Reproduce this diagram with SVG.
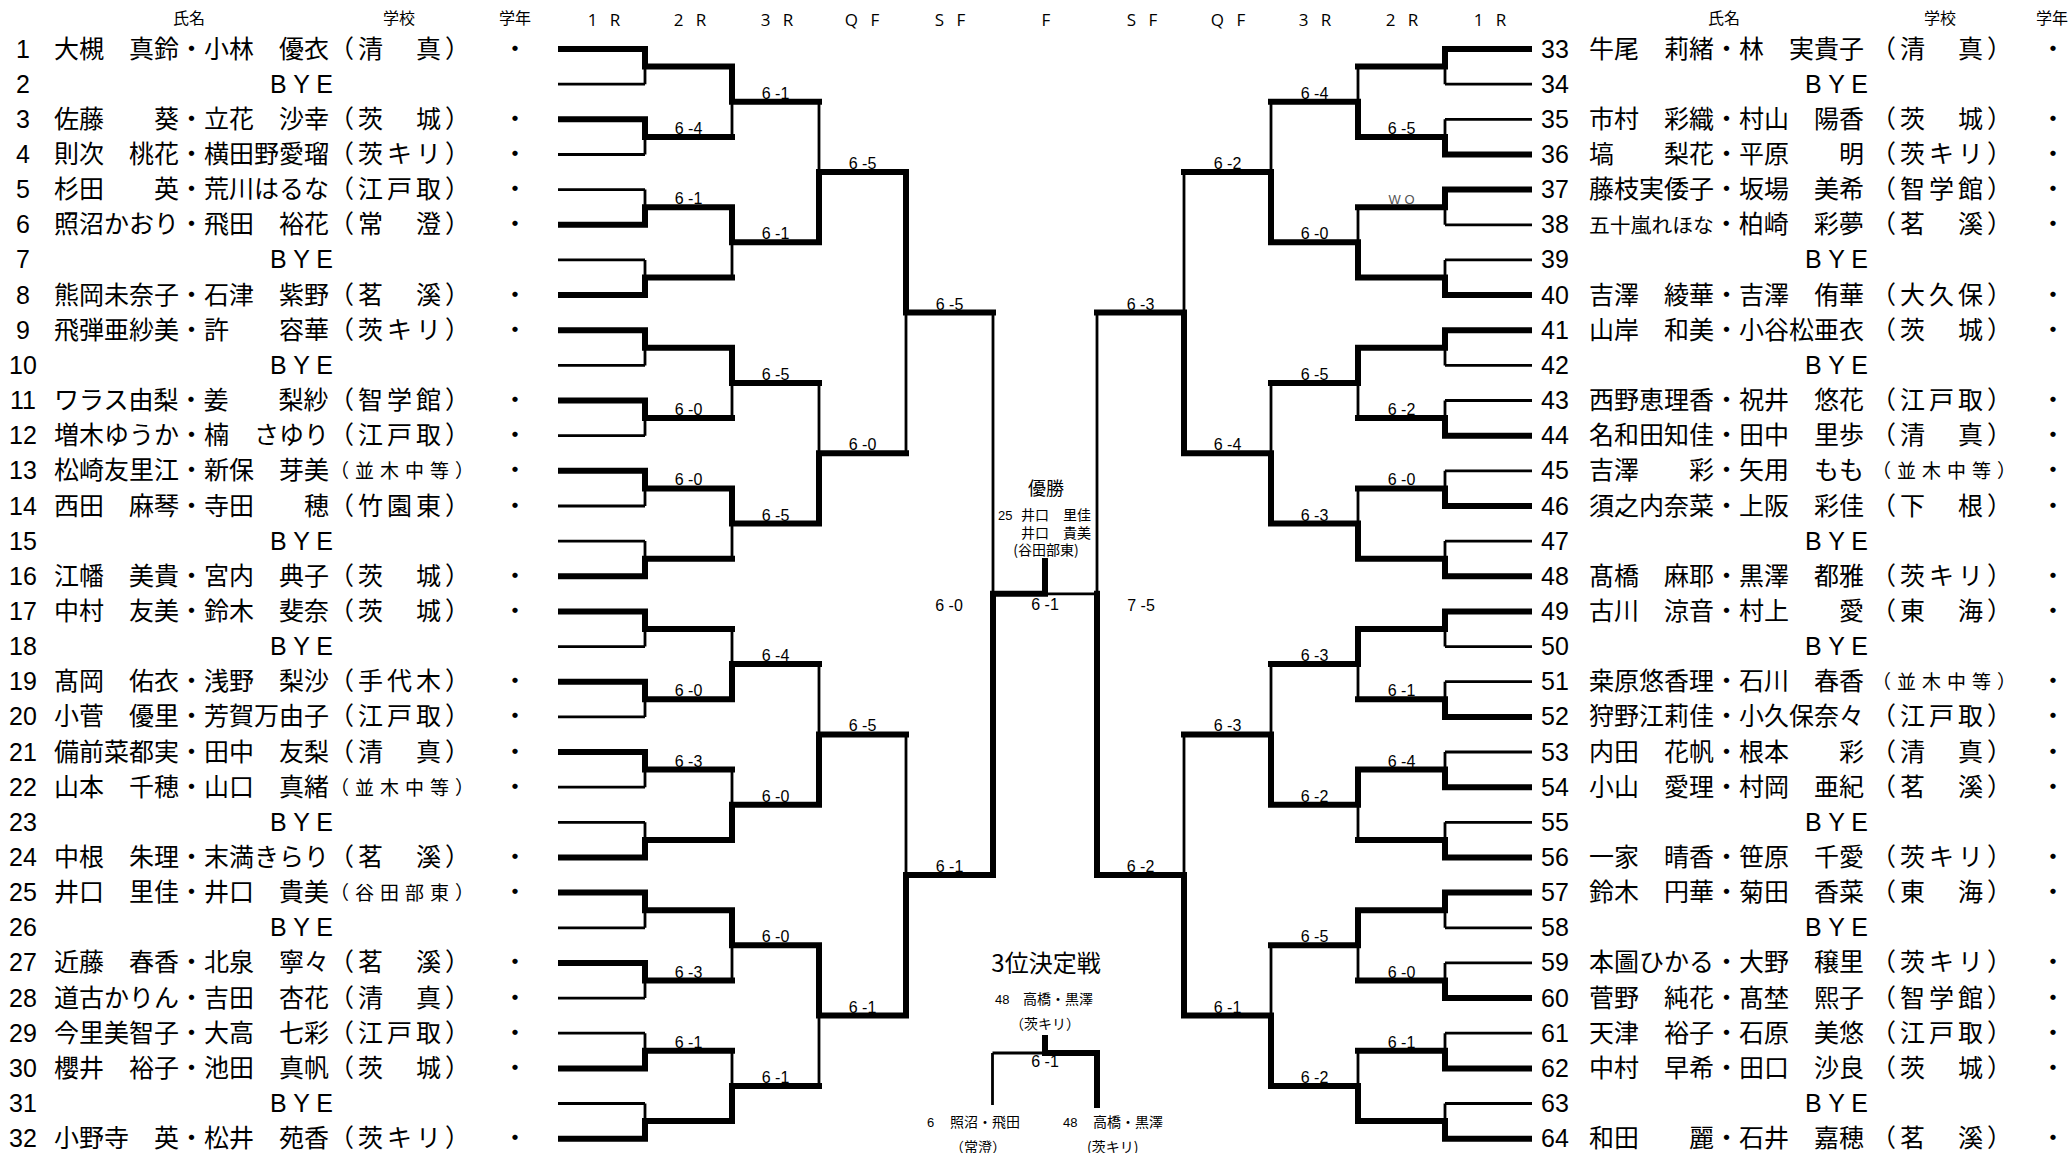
<svg xmlns="http://www.w3.org/2000/svg" width="2071" height="1153" viewBox="0 0 2071 1153">
<style>
.n{font-family:"Liberation Sans",Arial,sans-serif;font-size:25px;text-anchor:middle}
.j{font-family:"Noto Sans CJK JP",sans-serif;font-size:25px}
.k{font-family:"Noto Sans CJK JP",sans-serif;font-size:25px;letter-spacing:4px}
.s{font-family:"Noto Sans CJK JP",sans-serif;font-size:19px}
.g{font-family:"Noto Sans CJK JP",sans-serif;font-size:25px;text-anchor:middle}
.b{font-family:"Liberation Sans",Arial,sans-serif;font-size:25px}
.sc{font-family:"Liberation Sans",Arial,sans-serif;font-size:16px;text-anchor:middle}
.wo{font-family:"Liberation Sans",Arial,sans-serif;font-size:13px;text-anchor:middle;fill:#555}
.h{font-family:"Noto Sans CJK JP",sans-serif;font-size:16px;text-anchor:middle}
.r{font-family:"Open Sans",sans-serif;font-size:17px;text-anchor:middle;letter-spacing:4px}
.c{font-family:"Noto Sans CJK JP",sans-serif;font-size:14px}
.cn{font-family:"Liberation Sans",Arial,sans-serif;font-size:13px}
.thk{fill:none;stroke:#000;stroke-width:6;stroke-linecap:square}
.thn{fill:none;stroke:#000;stroke-width:2.8}
</style>
<rect width="2071" height="1153" fill="#fff"/>
<g id="headers">
<text class="h" x="189" y="23.5">氏名</text><text class="h" x="399" y="23.5">学校</text><text class="h" x="515" y="23.5">学年</text>
<text class="h" x="1724" y="23.5">氏名</text><text class="h" x="1940" y="23.5">学校</text><text class="h" x="2052" y="23.5">学年</text>
<text class="r" x="606" y="26">1 R</text><text class="r" x="692" y="26">2 R</text><text class="r" x="779" y="26">3 R</text><text class="r" x="864" y="26">Q F</text><text class="r" x="952" y="26">S F</text><text class="r" x="1048" y="26">F</text><text class="r" x="1144" y="26">S F</text><text class="r" x="1230" y="26">Q F</text><text class="r" x="1317" y="26">3 R</text><text class="r" x="1404" y="26">2 R</text><text class="r" x="1492" y="26">1 R</text>
</g>
<g id="connectors">
<path class="thn" d="M558 84.2H645M558 154.5H645M558 189.6H645M558 259.9H645M558 365.4H645M558 435.7H645M558 506H645M558 541.1H645M558 646.6H645M558 716.9H645M558 787.2H645M558 822.3H645M558 927.8H645M558 998.1H645M558 1033.2H645M558 1103.5H645
M645 49V84.2M645 119.3V154.5M645 189.6V224.8M645 259.9V295.1M645 330.2V365.4M645 400.5V435.7M645 470.8V506M645 541.1V576.3M645 611.4V646.6M645 681.7V716.9M645 752V787.2M645 822.3V857.5M645 892.6V927.8M645 962.9V998.1M645 1033.2V1068.4M645 1103.5V1138.7
M732 66.6V136.9M732 207.2V277.5M732 347.8V418.1M732 488.4V558.7M732 629V699.3M732 769.6V839.9M732 910.2V980.5M732 1050.8V1121.1
M819 101.7V242.3M819 382.9V523.5M819 664.1V804.7M819 945.3V1085.9
M906 172V453.2M906 734.4V1015.6M993 312.6V875M1045 593.8H1097"/>
<path class="thk" d="M561 49H645M561 119.3H645M561 224.8H645M561 295.1H645M561 330.2H645M561 400.5H645M561 470.8H645M561 576.3H645M561 611.4H645M561 681.7H645M561 752H645M561 857.5H645M561 892.6H645M561 962.9H645M561 1068.4H645M561 1138.7H645
M645 49V66.6M645 119.3V136.9M645 207.2V224.8M645 277.5V295.1M645 330.2V347.8M645 400.5V418.1M645 470.8V488.4M645 558.7V576.3M645 611.4V629M645 681.7V699.3M645 752V769.6M645 839.9V857.5M645 892.6V910.2M645 962.9V980.5M645 1050.8V1068.4M645 1121.1V1138.7
M645 66.6H732M645 136.9H732M645 207.2H732M645 277.5H732M645 347.8H732M645 418.1H732M645 488.4H732M645 558.7H732M645 629H732M645 699.3H732M645 769.6H732M645 839.9H732M645 910.2H732M645 980.5H732M645 1050.8H732M645 1121.1H732
M732 66.6V101.7M732 207.2V242.3M732 347.8V382.9M732 488.4V523.5M732 664.1V699.3M732 804.7V839.9M732 910.2V945.3M732 1085.9V1121.1
M732 101.7H819M732 242.3H819M732 382.9H819M732 523.5H819M732 664.1H819M732 804.7H819M732 945.3H819M732 1085.9H819
M819 172V242.3M819 453.2V523.5M819 734.4V804.7M819 945.3V1015.6
M819 172H906M819 453.2H906M819 734.4H906M819 1015.6H906
M906 172V312.6M906 875V1015.6M906 312.6H993M906 875H993
M993 593.8V875M993 593.8H1045M1045 561V593.8"/>
<path class="thn" d="M1532 84.2H1445M1532 119.3H1445M1532 224.8H1445M1532 259.9H1445M1532 365.4H1445M1532 400.5H1445M1532 470.8H1445M1532 541.1H1445M1532 646.6H1445M1532 681.7H1445M1532 752H1445M1532 822.3H1445M1532 927.8H1445M1532 962.9H1445M1532 1033.2H1445M1532 1103.5H1445
M1445 49V84.2M1445 119.3V154.5M1445 189.6V224.8M1445 259.9V295.1M1445 330.2V365.4M1445 400.5V435.7M1445 470.8V506M1445 541.1V576.3M1445 611.4V646.6M1445 681.7V716.9M1445 752V787.2M1445 822.3V857.5M1445 892.6V927.8M1445 962.9V998.1M1445 1033.2V1068.4M1445 1103.5V1138.7
M1358 66.6V136.9M1358 207.2V277.5M1358 347.8V418.1M1358 488.4V558.7M1358 629V699.3M1358 769.6V839.9M1358 910.2V980.5M1358 1050.8V1121.1
M1271 101.7V242.3M1271 382.9V523.5M1271 664.1V804.7M1271 945.3V1085.9
M1184 172V453.2M1184 734.4V1015.6M1097 312.6V875"/>
<path class="thk" d="M1529 49H1445M1529 154.5H1445M1529 189.6H1445M1529 295.1H1445M1529 330.2H1445M1529 435.7H1445M1529 506H1445M1529 576.3H1445M1529 611.4H1445M1529 716.9H1445M1529 787.2H1445M1529 857.5H1445M1529 892.6H1445M1529 998.1H1445M1529 1068.4H1445M1529 1138.7H1445
M1445 49V66.6M1445 136.9V154.5M1445 189.6V207.2M1445 277.5V295.1M1445 330.2V347.8M1445 418.1V435.7M1445 488.4V506M1445 558.7V576.3M1445 611.4V629M1445 699.3V716.9M1445 769.6V787.2M1445 839.9V857.5M1445 892.6V910.2M1445 980.5V998.1M1445 1050.8V1068.4M1445 1121.1V1138.7
M1445 66.6H1358M1445 136.9H1358M1445 207.2H1358M1445 277.5H1358M1445 347.8H1358M1445 418.1H1358M1445 488.4H1358M1445 558.7H1358M1445 629H1358M1445 699.3H1358M1445 769.6H1358M1445 839.9H1358M1445 910.2H1358M1445 980.5H1358M1445 1050.8H1358M1445 1121.1H1358
M1358 101.7V136.9M1358 242.3V277.5M1358 347.8V382.9M1358 523.5V558.7M1358 629V664.1M1358 769.6V804.7M1358 910.2V945.3M1358 1085.9V1121.1
M1358 101.7H1271M1358 242.3H1271M1358 382.9H1271M1358 523.5H1271M1358 664.1H1271M1358 804.7H1271M1358 945.3H1271M1358 1085.9H1271
M1271 172V242.3M1271 453.2V523.5M1271 734.4V804.7M1271 1015.6V1085.9
M1271 172H1184M1271 453.2H1184M1271 734.4H1184M1271 1015.6H1184
M1184 312.6V453.2M1184 875V1015.6M1184 312.6H1097M1184 875H1097
M1097 593.8V875"/>
<path class="thn" d="M992.5 1053V1105M992.5 1053H1045"/>
<path class="thk" d="M1045 1053H1097M1045 1038V1053M1097 1053V1105"/>
</g>
<g id="scores">
<text class="sc" x="688.5" y="133.9">6 -4</text><text class="sc" x="688.5" y="204.2">6 -1</text><text class="sc" x="688.5" y="415.1">6 -0</text><text class="sc" x="688.5" y="485.4">6 -0</text><text class="sc" x="688.5" y="696.3">6 -0</text><text class="sc" x="688.5" y="766.6">6 -3</text><text class="sc" x="688.5" y="977.5">6 -3</text><text class="sc" x="688.5" y="1047.8">6 -1</text>
<text class="sc" x="775.5" y="98.7">6 -1</text><text class="sc" x="775.5" y="239.3">6 -1</text><text class="sc" x="775.5" y="379.9">6 -5</text><text class="sc" x="775.5" y="520.5">6 -5</text><text class="sc" x="775.5" y="661.1">6 -4</text><text class="sc" x="775.5" y="801.7">6 -0</text><text class="sc" x="775.5" y="942.3">6 -0</text><text class="sc" x="775.5" y="1082.9">6 -1</text>
<text class="sc" x="862.5" y="169">6 -5</text><text class="sc" x="862.5" y="450.2">6 -0</text><text class="sc" x="862.5" y="731.4">6 -5</text><text class="sc" x="862.5" y="1012.6">6 -1</text>
<text class="sc" x="949.5" y="309.6">6 -5</text><text class="sc" x="949.5" y="872">6 -1</text>
<text class="sc" x="949" y="611">6 -0</text><text class="sc" x="1045" y="610">6 -1</text><text class="sc" x="1141" y="611">7 -5</text>
<text class="sc" x="1401.5" y="133.9">6 -5</text><text class="wo" x="1401.5" y="204.2">W O</text><text class="sc" x="1401.5" y="415.1">6 -2</text><text class="sc" x="1401.5" y="485.4">6 -0</text><text class="sc" x="1401.5" y="696.3">6 -1</text><text class="sc" x="1401.5" y="766.6">6 -4</text><text class="sc" x="1401.5" y="977.5">6 -0</text><text class="sc" x="1401.5" y="1047.8">6 -1</text>
<text class="sc" x="1314.5" y="98.7">6 -4</text><text class="sc" x="1314.5" y="239.3">6 -0</text><text class="sc" x="1314.5" y="379.9">6 -5</text><text class="sc" x="1314.5" y="520.5">6 -3</text><text class="sc" x="1314.5" y="661.1">6 -3</text><text class="sc" x="1314.5" y="801.7">6 -2</text><text class="sc" x="1314.5" y="942.3">6 -5</text><text class="sc" x="1314.5" y="1082.9">6 -2</text>
<text class="sc" x="1227.5" y="169">6 -2</text><text class="sc" x="1227.5" y="450.2">6 -4</text><text class="sc" x="1227.5" y="731.4">6 -3</text><text class="sc" x="1227.5" y="1012.6">6 -1</text>
<text class="sc" x="1140.5" y="309.6">6 -3</text><text class="sc" x="1140.5" y="872">6 -2</text>
<text class="sc" x="1045" y="1067">6 -1</text>
</g>
<g id="champion">
<text class="g" x="1046" y="495" style="font-size:18px">優勝</text>
<text class="cn" x="998" y="520">25</text><text class="c" x="1021" y="520">井口　里佳</text>
<text class="c" x="1021" y="538">井口　貴美</text>
<text class="c" x="1046" y="555" text-anchor="middle">(谷田部東)</text>
</g>
<g id="third-place">
<text class="g" x="1046" y="972" style="font-size:24px">3位決定戦</text>
<text class="cn" x="995" y="1004">48</text><text class="c" x="1023" y="1004">高橋・黒澤</text>
<text class="c" x="1045" y="1029" text-anchor="middle">（茨キリ）</text>
<text class="cn" x="927" y="1127">6</text><text class="c" x="950" y="1127">照沼・飛田</text>
<text class="c" x="950" y="1152">（常澄）</text>
<text class="cn" x="1063" y="1127">48</text><text class="c" x="1093" y="1127">高橋・黒澤</text>
<text class="c" x="1087" y="1152">(茨キリ)</text>
</g>
<g id="p1"><text class="n" x="23" y="57.5">1</text><text class="j" x="54" y="57.5">大槻　真鈴・小林　優衣</text><text class="k" x="329" y="57.5">（清　真）</text><text class="g" x="515" y="57.5">・</text></g>
<g id="p2"><text class="n" x="23" y="92.7">2</text><text class="b" x="270" y="92.7">B Y E</text></g>
<g id="p3"><text class="n" x="23" y="127.8">3</text><text class="j" x="54" y="127.8">佐藤　　葵・立花　沙幸</text><text class="k" x="329" y="127.8">（茨　城）</text><text class="g" x="515" y="127.8">・</text></g>
<g id="p4"><text class="n" x="23" y="163">4</text><text class="j" x="54" y="163">則次　桃花・横田野愛瑠</text><text class="k" x="329" y="163">（茨キリ）</text><text class="g" x="515" y="163">・</text></g>
<g id="p5"><text class="n" x="23" y="198.1">5</text><text class="j" x="54" y="198.1">杉田　　英・荒川はるな</text><text class="k" x="329" y="198.1">（江戸取）</text><text class="g" x="515" y="198.1">・</text></g>
<g id="p6"><text class="n" x="23" y="233.3">6</text><text class="j" x="54" y="233.3">照沼かおり・飛田　裕花</text><text class="k" x="329" y="233.3">（常　澄）</text><text class="g" x="515" y="233.3">・</text></g>
<g id="p7"><text class="n" x="23" y="268.4">7</text><text class="b" x="270" y="268.4">B Y E</text></g>
<g id="p8"><text class="n" x="23" y="303.6">8</text><text class="j" x="54" y="303.6">熊岡未奈子・石津　紫野</text><text class="k" x="329" y="303.6">（茗　溪）</text><text class="g" x="515" y="303.6">・</text></g>
<g id="p9"><text class="n" x="23" y="338.7">9</text><text class="j" x="54" y="338.7">飛弾亜紗美・許　　容華</text><text class="k" x="329" y="338.7">（茨キリ）</text><text class="g" x="515" y="338.7">・</text></g>
<g id="p10"><text class="n" x="23" y="373.9">10</text><text class="b" x="270" y="373.9">B Y E</text></g>
<g id="p11"><text class="n" x="23" y="409">11</text><text class="j" x="54" y="409">ワラス由梨・姜　　梨紗</text><text class="k" x="329" y="409">（智学館）</text><text class="g" x="515" y="409">・</text></g>
<g id="p12"><text class="n" x="23" y="444.2">12</text><text class="j" x="54" y="444.2">増木ゆうか・楠　さゆり</text><text class="k" x="329" y="444.2">（江戸取）</text><text class="g" x="515" y="444.2">・</text></g>
<g id="p13"><text class="n" x="23" y="479.3">13</text><text class="j" x="54" y="479.3">松崎友里江・新保　芽美</text><text class="s" x="330" y="478.3" textLength="144">（並木中等）</text><text class="g" x="515" y="479.3">・</text></g>
<g id="p14"><text class="n" x="23" y="514.5">14</text><text class="j" x="54" y="514.5">西田　麻琴・寺田　　穂</text><text class="k" x="329" y="514.5">（竹園東）</text><text class="g" x="515" y="514.5">・</text></g>
<g id="p15"><text class="n" x="23" y="549.6">15</text><text class="b" x="270" y="549.6">B Y E</text></g>
<g id="p16"><text class="n" x="23" y="584.8">16</text><text class="j" x="54" y="584.8">江幡　美貴・宮内　典子</text><text class="k" x="329" y="584.8">（茨　城）</text><text class="g" x="515" y="584.8">・</text></g>
<g id="p17"><text class="n" x="23" y="619.9">17</text><text class="j" x="54" y="619.9">中村　友美・鈴木　斐奈</text><text class="k" x="329" y="619.9">（茨　城）</text><text class="g" x="515" y="619.9">・</text></g>
<g id="p18"><text class="n" x="23" y="655.1">18</text><text class="b" x="270" y="655.1">B Y E</text></g>
<g id="p19"><text class="n" x="23" y="690.2">19</text><text class="j" x="54" y="690.2">髙岡　佑衣・浅野　梨沙</text><text class="k" x="329" y="690.2">（手代木）</text><text class="g" x="515" y="690.2">・</text></g>
<g id="p20"><text class="n" x="23" y="725.4">20</text><text class="j" x="54" y="725.4">小菅　優里・芳賀万由子</text><text class="k" x="329" y="725.4">（江戸取）</text><text class="g" x="515" y="725.4">・</text></g>
<g id="p21"><text class="n" x="23" y="760.5">21</text><text class="j" x="54" y="760.5">備前菜都実・田中　友梨</text><text class="k" x="329" y="760.5">（清　真）</text><text class="g" x="515" y="760.5">・</text></g>
<g id="p22"><text class="n" x="23" y="795.7">22</text><text class="j" x="54" y="795.7">山本　千穂・山口　真緒</text><text class="s" x="330" y="794.7" textLength="144">（並木中等）</text><text class="g" x="515" y="795.7">・</text></g>
<g id="p23"><text class="n" x="23" y="830.8">23</text><text class="b" x="270" y="830.8">B Y E</text></g>
<g id="p24"><text class="n" x="23" y="866">24</text><text class="j" x="54" y="866">中根　朱理・末満きらり</text><text class="k" x="329" y="866">（茗　溪）</text><text class="g" x="515" y="866">・</text></g>
<g id="p25"><text class="n" x="23" y="901.1">25</text><text class="j" x="54" y="901.1">井口　里佳・井口　貴美</text><text class="s" x="330" y="900.1" textLength="144">（谷田部東）</text><text class="g" x="515" y="901.1">・</text></g>
<g id="p26"><text class="n" x="23" y="936.3">26</text><text class="b" x="270" y="936.3">B Y E</text></g>
<g id="p27"><text class="n" x="23" y="971.4">27</text><text class="j" x="54" y="971.4">近藤　春香・北泉　寧々</text><text class="k" x="329" y="971.4">（茗　溪）</text><text class="g" x="515" y="971.4">・</text></g>
<g id="p28"><text class="n" x="23" y="1006.6">28</text><text class="j" x="54" y="1006.6">道古かりん・吉田　杏花</text><text class="k" x="329" y="1006.6">（清　真）</text><text class="g" x="515" y="1006.6">・</text></g>
<g id="p29"><text class="n" x="23" y="1041.7">29</text><text class="j" x="54" y="1041.7">今里美智子・大高　七彩</text><text class="k" x="329" y="1041.7">（江戸取）</text><text class="g" x="515" y="1041.7">・</text></g>
<g id="p30"><text class="n" x="23" y="1076.9">30</text><text class="j" x="54" y="1076.9">櫻井　裕子・池田　真帆</text><text class="k" x="329" y="1076.9">（茨　城）</text><text class="g" x="515" y="1076.9">・</text></g>
<g id="p31"><text class="n" x="23" y="1112">31</text><text class="b" x="270" y="1112">B Y E</text></g>
<g id="p32"><text class="n" x="23" y="1147.2">32</text><text class="j" x="54" y="1147.2">小野寺　英・松井　苑香</text><text class="k" x="329" y="1147.2">（茨キリ）</text><text class="g" x="515" y="1147.2">・</text></g>
<g id="p33"><text class="n" x="1555" y="57.5">33</text><text class="j" x="1589" y="57.5">牛尾　莉緒・林　実貴子</text><text class="k" x="1871" y="57.5">（清　真）</text><text class="g" x="2053" y="57.5">・</text></g>
<g id="p34"><text class="n" x="1555" y="92.7">34</text><text class="b" x="1805" y="92.7">B Y E</text></g>
<g id="p35"><text class="n" x="1555" y="127.8">35</text><text class="j" x="1589" y="127.8">市村　彩織・村山　陽香</text><text class="k" x="1871" y="127.8">（茨　城）</text><text class="g" x="2053" y="127.8">・</text></g>
<g id="p36"><text class="n" x="1555" y="163">36</text><text class="j" x="1589" y="163">塙　　梨花・平原　　明</text><text class="k" x="1871" y="163">（茨キリ）</text><text class="g" x="2053" y="163">・</text></g>
<g id="p37"><text class="n" x="1555" y="198.1">37</text><text class="j" x="1589" y="198.1">藤枝実倭子・坂場　美希</text><text class="k" x="1871" y="198.1">（智学館）</text><text class="g" x="2053" y="198.1">・</text></g>
<g id="p38"><text class="n" x="1555" y="233.3">38</text><text class="j" x="1589" y="233.3"><tspan style="font-size:20.8px">五十嵐れほな</tspan>・柏崎　彩夢</text><text class="k" x="1871" y="233.3">（茗　溪）</text><text class="g" x="2053" y="233.3">・</text></g>
<g id="p39"><text class="n" x="1555" y="268.4">39</text><text class="b" x="1805" y="268.4">B Y E</text></g>
<g id="p40"><text class="n" x="1555" y="303.6">40</text><text class="j" x="1589" y="303.6">吉澤　綾華・吉澤　侑華</text><text class="k" x="1871" y="303.6">（大久保）</text><text class="g" x="2053" y="303.6">・</text></g>
<g id="p41"><text class="n" x="1555" y="338.7">41</text><text class="j" x="1589" y="338.7">山岸　和美・小谷松亜衣</text><text class="k" x="1871" y="338.7">（茨　城）</text><text class="g" x="2053" y="338.7">・</text></g>
<g id="p42"><text class="n" x="1555" y="373.9">42</text><text class="b" x="1805" y="373.9">B Y E</text></g>
<g id="p43"><text class="n" x="1555" y="409">43</text><text class="j" x="1589" y="409">西野恵理香・祝井　悠花</text><text class="k" x="1871" y="409">（江戸取）</text><text class="g" x="2053" y="409">・</text></g>
<g id="p44"><text class="n" x="1555" y="444.2">44</text><text class="j" x="1589" y="444.2">名和田知佳・田中　里歩</text><text class="k" x="1871" y="444.2">（清　真）</text><text class="g" x="2053" y="444.2">・</text></g>
<g id="p45"><text class="n" x="1555" y="479.3">45</text><text class="j" x="1589" y="479.3">吉澤　　彩・矢用　もも</text><text class="s" x="1872" y="478.3" textLength="144">（並木中等）</text><text class="g" x="2053" y="479.3">・</text></g>
<g id="p46"><text class="n" x="1555" y="514.5">46</text><text class="j" x="1589" y="514.5">須之内奈菜・上阪　彩佳</text><text class="k" x="1871" y="514.5">（下　根）</text><text class="g" x="2053" y="514.5">・</text></g>
<g id="p47"><text class="n" x="1555" y="549.6">47</text><text class="b" x="1805" y="549.6">B Y E</text></g>
<g id="p48"><text class="n" x="1555" y="584.8">48</text><text class="j" x="1589" y="584.8">髙橋　麻耶・黒澤　都雅</text><text class="k" x="1871" y="584.8">（茨キリ）</text><text class="g" x="2053" y="584.8">・</text></g>
<g id="p49"><text class="n" x="1555" y="619.9">49</text><text class="j" x="1589" y="619.9">古川　涼音・村上　　愛</text><text class="k" x="1871" y="619.9">（東　海）</text><text class="g" x="2053" y="619.9">・</text></g>
<g id="p50"><text class="n" x="1555" y="655.1">50</text><text class="b" x="1805" y="655.1">B Y E</text></g>
<g id="p51"><text class="n" x="1555" y="690.2">51</text><text class="j" x="1589" y="690.2">桒原悠香理・石川　春香</text><text class="s" x="1872" y="689.2" textLength="144">（並木中等）</text><text class="g" x="2053" y="690.2">・</text></g>
<g id="p52"><text class="n" x="1555" y="725.4">52</text><text class="j" x="1589" y="725.4">狩野江莉佳・小久保奈々</text><text class="k" x="1871" y="725.4">（江戸取）</text><text class="g" x="2053" y="725.4">・</text></g>
<g id="p53"><text class="n" x="1555" y="760.5">53</text><text class="j" x="1589" y="760.5">内田　花帆・根本　　彩</text><text class="k" x="1871" y="760.5">（清　真）</text><text class="g" x="2053" y="760.5">・</text></g>
<g id="p54"><text class="n" x="1555" y="795.7">54</text><text class="j" x="1589" y="795.7">小山　愛理・村岡　亜紀</text><text class="k" x="1871" y="795.7">（茗　溪）</text><text class="g" x="2053" y="795.7">・</text></g>
<g id="p55"><text class="n" x="1555" y="830.8">55</text><text class="b" x="1805" y="830.8">B Y E</text></g>
<g id="p56"><text class="n" x="1555" y="866">56</text><text class="j" x="1589" y="866">一家　晴香・笹原　千愛</text><text class="k" x="1871" y="866">（茨キリ）</text><text class="g" x="2053" y="866">・</text></g>
<g id="p57"><text class="n" x="1555" y="901.1">57</text><text class="j" x="1589" y="901.1">鈴木　円華・菊田　香菜</text><text class="k" x="1871" y="901.1">（東　海）</text><text class="g" x="2053" y="901.1">・</text></g>
<g id="p58"><text class="n" x="1555" y="936.3">58</text><text class="b" x="1805" y="936.3">B Y E</text></g>
<g id="p59"><text class="n" x="1555" y="971.4">59</text><text class="j" x="1589" y="971.4">本圖ひかる・大野　穣里</text><text class="k" x="1871" y="971.4">（茨キリ）</text><text class="g" x="2053" y="971.4">・</text></g>
<g id="p60"><text class="n" x="1555" y="1006.6">60</text><text class="j" x="1589" y="1006.6">菅野　純花・髙埜　熙子</text><text class="k" x="1871" y="1006.6">（智学館）</text><text class="g" x="2053" y="1006.6">・</text></g>
<g id="p61"><text class="n" x="1555" y="1041.7">61</text><text class="j" x="1589" y="1041.7">天津　裕子・石原　美悠</text><text class="k" x="1871" y="1041.7">（江戸取）</text><text class="g" x="2053" y="1041.7">・</text></g>
<g id="p62"><text class="n" x="1555" y="1076.9">62</text><text class="j" x="1589" y="1076.9">中村　早希・田口　沙良</text><text class="k" x="1871" y="1076.9">（茨　城）</text><text class="g" x="2053" y="1076.9">・</text></g>
<g id="p63"><text class="n" x="1555" y="1112">63</text><text class="b" x="1805" y="1112">B Y E</text></g>
<g id="p64"><text class="n" x="1555" y="1147.2">64</text><text class="j" x="1589" y="1147.2">和田　　麗・石井　嘉穂</text><text class="k" x="1871" y="1147.2">（茗　溪）</text><text class="g" x="2053" y="1147.2">・</text></g>
</svg>
